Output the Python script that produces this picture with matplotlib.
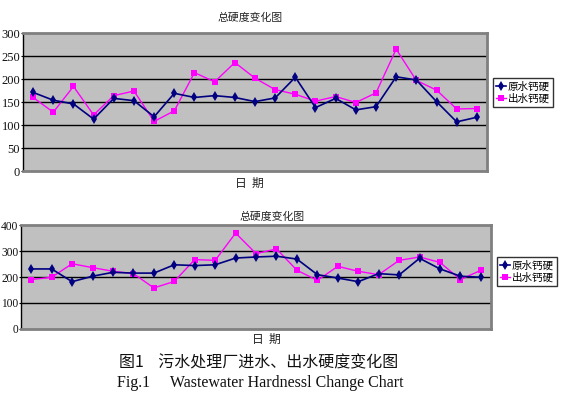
import matplotlib.pyplot as plt
import numpy as np

plt.rcParams['font.family'] = ['Noto Sans CJK SC', 'DejaVu Sans']

# 总硬度变化图 (upper chart)
raw_top = [171, 154, 146, 113, 158, 153, 118, 169, 160, 164, 160, 151,
           159, 204, 138, 158, 133, 140, 205, 198, 151, 107, 117]
out_top = [160, 128, 184, 122, 164, 174, 108, 131, 214, 194, 236, 202,
           177, 167, 152, 162, 149, 170, 265, 197, 176, 135, 136]

# 总硬度变化图 (lower chart)
raw_bot = [231, 231, 182, 203, 218, 215, 215, 247, 244, 247, 273, 277,
           280, 269, 209, 196, 182, 213, 208, 272, 231, 203, 199]
out_bot = [190, 199, 251, 236, 222, 213, 158, 183, 267, 264, 369, 290,
           308, 226, 187, 241, 222, 209, 264, 277, 256, 190, 226]

yticks_top = [0, 50, 100, 150, 200, 250, 300]
yticks_bot = [0, 100, 200, 300, 400]

series_names = ['原水钙硬', '出水钙硬']
chart_title = '总硬度变化图'
x_label = '日  期'

navy = '#000080'
magenta = '#FF00FF'

fig = plt.figure(figsize=(5.63, 3.96), dpi=100)
fig.patch.set_facecolor('white')


def draw_chart(rect, raw, out, yticks, legend_y, title_x, title_y, xlab_x, xlab_y, tick_fs):
    ax = fig.add_axes(rect)
    ax.set_facecolor('#C0C0C0')
    x = np.arange(len(raw))
    ax.plot(x, raw, color=navy, lw=1.2, marker='d', ms=5.5, mew=0,
            label=series_names[0], zorder=3)
    ax.plot(x, out, color=magenta, lw=1.0, marker='s', ms=5, mew=0,
            label=series_names[1], zorder=2)
    ax.set_xlim(-0.5, len(raw) - 0.5)
    ax.set_ylim(yticks[0], yticks[-1])
    ax.set_yticks(yticks)
    ax.set_yticklabels([str(v) for v in yticks], family='Liberation Serif',
                       fontsize=tick_fs, color='#111111')
    ax.set_xticks([])
    for v in yticks[1:-1]:
        ax.axhline(v, color='black', lw=1.0, zorder=1)
    for side in ['top', 'right', 'bottom']:
        ax.spines[side].set_color('#808080')
        ax.spines[side].set_linewidth(2)
    ax.spines['left'].set_color('black')
    ax.spines['left'].set_linewidth(1)
    ax.tick_params(axis='y', length=1.5, width=0.8, pad=0.5)
    fig.text(title_x, title_y, chart_title, ha='center', va='center',
             fontsize=7.8, color='#222222')
    fig.text(xlab_x, xlab_y, x_label, ha='center', va='center',
             fontsize=8.5, color='#222222')
    leg = ax.legend(loc='center left', bbox_to_anchor=(1.012, legend_y),
                    frameon=True, fancybox=False, edgecolor='black',
                    fontsize=7.6, handlelength=1.0, handletextpad=0.15,
                    borderpad=0.3, labelspacing=0.2, borderaxespad=0)
    leg.get_frame().set_linewidth(1)
    return ax


draw_chart([0.0409, 0.568, 0.824, 0.3485], raw_top, out_top, yticks_top,
           0.57, 0.445, 0.955, 0.443, 0.538, 9)
draw_chart([0.0373, 0.1692, 0.835, 0.2626], raw_bot, out_bot, yticks_bot,
           0.55, 0.483, 0.452, 0.474, 0.144, 8.3)

fig.text(0.46, 0.083, '图1    污水处理厂进水、出水硬度变化图', ha='center',
         va='center', fontsize=11.5, color='#111111')
fig.text(0.462, 0.033, 'Fig.1     Wastewater Hardnessl Change Chart', ha='center',
         va='center', fontsize=11.5, family='Liberation Serif', color='#111111')

fig.savefig('out.png', dpi=100)
